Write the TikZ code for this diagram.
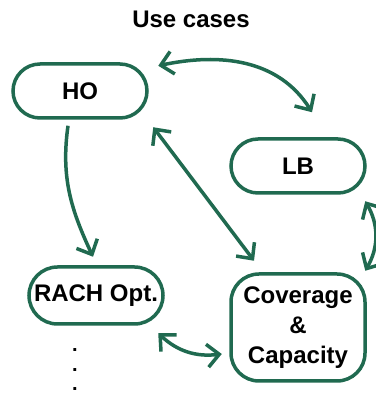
\documentclass[tikz,border=0pt]{standalone}
\usepackage{fontspec}
\setmainfont{Liberation Sans}
\usetikzlibrary{arrows.meta}
\definecolor{ucgreen}{RGB}{32,106,80}

\begin{document}
\begin{tikzpicture}[x=1pt, y=1pt,
        usecase/.style={rectangle, draw=ucgreen, line width=3.5pt, rounded corners=27pt,
            minimum width=134pt, minimum height=54pt, inner sep=0pt, align=center,
            font=\fontsize{24}{30}\selectfont\bfseries},
        arrow/.style={draw=ucgreen, line width=3.5pt, >={Straight Barb[length=12pt, width=23pt]}}
    ]
        \useasboundingbox (0,0) rectangle (375,395);

        % Title
        \node[font=\fontsize{24}{28}\selectfont\bfseries] (title) at (191,376) {Use cases};

        % Use cases
        \node[usecase] (ho) at (80,304) {HO};
        \node[usecase] (lb) at (298,229) {LB};
        \node[usecase, minimum height=57pt, rounded corners=28.5pt] (rach) at (96,99.5) {RACH Opt.};
        \node[usecase, minimum height=107pt, rounded corners=28pt] (cc) at (298,67.5) {Coverage\\\&\\Capacity};

        % Links
        \draw[arrow, <->] ([shift={(9.5,-3.5)}]ho.north east) to[out=12, in=122] ([shift={(14,25)}]lb.north);
        \draw[arrow, ->] ([shift={(-12,-6)}]ho.south) to[out=262, in=115] ([shift={(-3,8.5)}]rach.north);
        \draw[arrow, <->] ([shift={(4.5,-7.5)}]ho.south east) -- ([shift={(-44,11.5)}]cc.north);
        \draw[arrow, <->] ([shift={(-1.5,-6.5)}]lb.south east) to[bend left=30] ([shift={(-1.5,1.5)}]cc.north east);
        \draw[arrow, <->] ([shift={(-6.5,-7.5)}]rach.south east) to[bend right=25] ([shift={(-7.5,-26.5)}]cc.west);

        % More use cases
        \node[font=\fontsize{20}{19.5}\selectfont\bfseries, align=center] (more) at (75,25) {.\\.\\.};
    \end{tikzpicture}
\end{document}
